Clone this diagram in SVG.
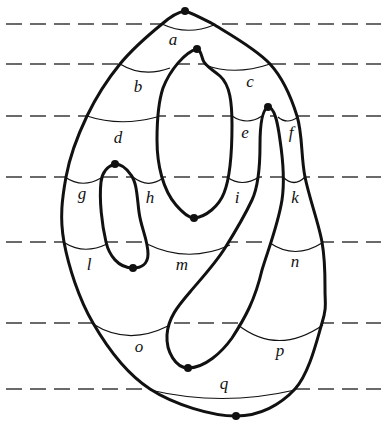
<svg xmlns="http://www.w3.org/2000/svg" width="381" height="421" viewBox="0 0 381 421">
<style>
.dash{stroke:#3a3a3a;stroke-width:1.5;stroke-dasharray:16 8;fill:none}
.curve{stroke:#111;stroke-width:3;fill:none;stroke-linejoin:round}
.arc{stroke:#111;stroke-width:1.2;fill:none}
.lab{font-family:"Liberation Serif","DejaVu Serif",serif;font-style:italic;font-size:17px;fill:#111;text-anchor:middle}
.dot{fill:#111}
</style>
<defs>
<path id="outer" d="M185,11 C192,13 203,19 213,24 C227.2,32.8 256,48.7 270,64 C284,79.3 291.2,97.2 297,116 C302.8,134.8 300.8,156 305,177 C309.2,198 318.7,223.2 322,242 C325.3,260.8 325,276.5 325,290 C325,303.5 327,306.5 322,323 C317,339.5 309.3,373.5 295,389 C280.7,404.5 260.2,416 236,416 C211.8,416 173.8,404.5 150,389 C126.2,373.5 107.2,347.5 93,323 C78.7,298.5 68.5,266.3 64,242 C59.5,217.7 62.2,198 66,177 C69.8,156 78,134.8 87,116 C96,97.2 107.5,79.3 120,64 C132.5,48.7 151.2,32.8 162,24 C170,17 178,12 185,11 Z"/>
<path id="uloop" d="M197,49 C185,52 170,70 163,88 C158,103 157,120 157,140 C157,165 163,190 176,205 C183,213 189,218 194,218 C206,217 219,206 224,193 C230,178 232,150 232,125 C232,102 230,85 220,76 C212,69 205,66 203,60 C201,54 200,49 197,49 Z"/>
<path id="hook" d="M268,107 C262,110 260,125 260,145 C260,165 259,185 252,200 C245,215 235,232 225,248 C215,264 200,280 190,292 C178,306 168,318 167,335 C166,352 176,368 188,368 C205,368 222,352 232,338 C245,318 255,300 262,270 C268,250 278,225 282,200 C285,180 283,160 280,140 C278,125 275,107 268,107 Z"/>
<path id="small" d="M115,164 C108,166 102,172 101,182 C99,200 102,225 106,242 C109,255 118,268 133,268 C141,268 148,264 148,254 C148,240 141,228 139,212 C137,197 137,183 131,175 C127,169 121,164 115,164 Z"/>
</defs>
<g id="levels">
<line class="dash" x1="6" y1="24" x2="381" y2="24"/>
<line class="dash" x1="6" y1="64" x2="381" y2="64"/>
<line class="dash" x1="6" y1="116" x2="381" y2="116"/>
<line class="dash" x1="6" y1="177" x2="381" y2="177"/>
<line class="dash" x1="6" y1="242" x2="381" y2="242"/>
<line class="dash" x1="6" y1="323" x2="381" y2="323"/>
<line class="dash" x1="6" y1="389" x2="381" y2="389"/>
</g>
<path id="surface" fill="#fff" fill-rule="evenodd" d="M185,11 C192,13 203,19 213,24 C227.2,32.8 256,48.7 270,64 C284,79.3 291.2,97.2 297,116 C302.8,134.8 300.8,156 305,177 C309.2,198 318.7,223.2 322,242 C325.3,260.8 325,276.5 325,290 C325,303.5 327,306.5 322,323 C317,339.5 309.3,373.5 295,389 C280.7,404.5 260.2,416 236,416 C211.8,416 173.8,404.5 150,389 C126.2,373.5 107.2,347.5 93,323 C78.7,298.5 68.5,266.3 64,242 C59.5,217.7 62.2,198 66,177 C69.8,156 78,134.8 87,116 C96,97.2 107.5,79.3 120,64 C132.5,48.7 151.2,32.8 162,24 C170,17 178,12 185,11 Z M197,49 C185,52 170,70 163,88 C158,103 157,120 157,140 C157,165 163,190 176,205 C183,213 189,218 194,218 C206,217 219,206 224,193 C230,178 232,150 232,125 C232,102 230,85 220,76 C212,69 205,66 203,60 C201,54 200,49 197,49 Z M268,107 C262,110 260,125 260,145 C260,165 259,185 252,200 C245,215 235,232 225,248 C215,264 200,280 190,292 C178,306 168,318 167,335 C166,352 176,368 188,368 C205,368 222,352 232,338 C245,318 255,300 262,270 C268,250 278,225 282,200 C285,180 283,160 280,140 C278,125 275,107 268,107 Z M115,164 C108,166 102,172 101,182 C99,200 102,225 106,242 C109,255 118,268 133,268 C141,268 148,264 148,254 C148,240 141,228 139,212 C137,197 137,183 131,175 C127,169 121,164 115,164 Z"/>
<g id="arcs">
<path class="arc" d="M162,24 Q187,36 214,25"/>
<path class="arc" d="M120,64 Q143,78 170,68"/>
<path class="arc" d="M205,65 Q235,76 270,64"/>
<path class="arc" d="M87,116 Q120,127 157,117"/>
<path class="arc" d="M232,116 Q247,126 262,116"/>
<path class="arc" d="M278,117 Q287,125 298,117"/>
<path class="arc" d="M65,177 Q82,189 101,178"/>
<path class="arc" d="M133,177 Q148,189 163,178"/>
<path class="arc" d="M227,177 Q242,188 259,177"/>
<path class="arc" d="M283,177 Q294,188 305,177"/>
<path class="arc" d="M65,243 Q84,255 107,244"/>
<path class="arc" d="M147,244 Q188,264 230,245"/>
<path class="arc" d="M270,243 Q295,260 322,243"/>
<path class="arc" d="M93,324 Q128,346 168,326"/>
<path class="arc" d="M238,325 Q278,356 323,325"/>
<path class="arc" d="M150,390 Q222,407 295,390"/>
</g>
<g id="curves">
<use href="#outer" class="curve"/>
<use href="#uloop" class="curve"/>
<use href="#hook" class="curve"/>
<use href="#small" class="curve"/>
</g>
<g id="dots">
<circle class="dot" cx="185" cy="11" r="4"/>
<circle class="dot" cx="197" cy="49" r="4"/>
<circle class="dot" cx="194" cy="218" r="4"/>
<circle class="dot" cx="268" cy="107" r="4"/>
<circle class="dot" cx="188" cy="368" r="4"/>
<circle class="dot" cx="115" cy="164" r="4"/>
<circle class="dot" cx="133" cy="268" r="4"/>
<circle class="dot" cx="236" cy="416" r="4"/>
</g>
<g id="labels">
<text class="lab" x="173" y="45">a</text>
<text class="lab" x="138" y="92">b</text>
<text class="lab" x="250" y="87">c</text>
<text class="lab" x="118" y="143">d</text>
<text class="lab" x="245" y="138">e</text>
<text class="lab" x="291" y="138">f</text>
<text class="lab" x="82" y="199">g</text>
<text class="lab" x="150" y="203">h</text>
<text class="lab" x="237" y="203">i</text>
<text class="lab" x="295" y="203">k</text>
<text class="lab" x="89" y="270">l</text>
<text class="lab" x="182" y="270">m</text>
<text class="lab" x="295" y="267">n</text>
<text class="lab" x="139" y="352">o</text>
<text class="lab" x="280" y="356">p</text>
<text class="lab" x="224" y="389">q</text>
</g>
</svg>
